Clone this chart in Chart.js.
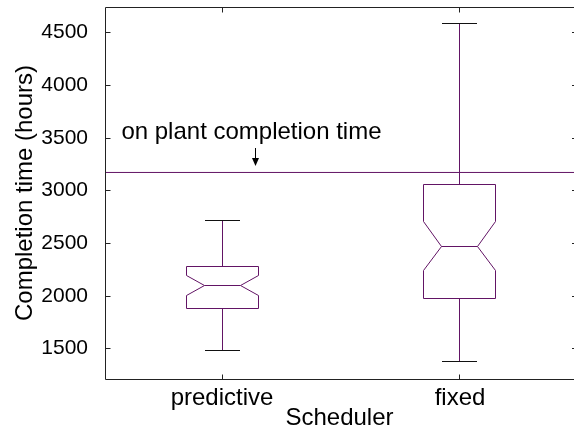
<!DOCTYPE html>
<html>
<head>
<meta charset="utf-8">
<script src="https://cdn.jsdelivr.net/npm/chart.js@4.4.1/dist/chart.umd.min.js"></script>
<style>
html,body{margin:0;padding:0;background:#ffffff;}
#wrap{width:574px;height:432px;position:relative;}
</style>
</head>
<body>
<div id="wrap"><canvas id="c" width="574" height="432"></canvas></div>
<script>
// ---- data ----
const categories  = ['predictive', 'fixed'];
const whiskerLow  = [1478, 1377];
const quartile1   = [1882, 1980];
const medians     = [2098, 2469];
const quartile3   = [2282, 3061];
const whiskerHigh = [2716, 4585];
const notchLow    = [2004, 2238];
const notchHigh   = [2190, 2707];
const referenceValue = [3173];
const referenceLabel = 'on plant completion time';
const yTickValues = [1500, 2000, 2500, 3000, 3500, 4000, 4500];
const xTitle = 'Scheduler';
const yTitle = 'Completion time (hours)';

// ---- layout / style constants ----
const X_MIN = -0.4916, X_MAX = 1.479;
const Y_MIN = 1212, Y_MAX = 4744;
const FONT = "'Liberation Sans', Arial, Helvetica, sans-serif";
const FS = 24;
const TICK_FS = 21;
const BOX_COLOR = '#621465';
const AXIS_COLOR = '#222222';
const BOX_HALF = 36, NOTCH_INSET = 18, CAP_HALF = 17.5, TICK_LEN = 5;
const LABEL_AT = {x: -0.4227, y: 3492};
const ARROW_X = 0.14, ARROW_FROM = 3405, ARROW_TO = 3234;

const crisp = v => Math.round(v - 0.5) + 0.5;

const drawPlugin = {
  id: 'gnuplotLook',
  afterDatasetsDraw(chart) {
    const ctx = chart.ctx;
    const xs = chart.scales.x, ys = chart.scales.y;
    const a = chart.chartArea;
    ctx.save();
    ctx.strokeStyle = AXIS_COLOR;
    ctx.lineWidth = 1;
    const L = crisp(a.left), T = crisp(a.top), B = crisp(a.bottom), R = a.right + 3;
    ctx.beginPath();
    ctx.moveTo(R, T); ctx.lineTo(L, T); ctx.lineTo(L, B); ctx.lineTo(R, B);
    ctx.stroke();
    ctx.beginPath();
    yTickValues.forEach(v => {
      const py = crisp(ys.getPixelForValue(v));
      ctx.moveTo(L, py); ctx.lineTo(L + TICK_LEN, py);
      ctx.moveTo(R, py); ctx.lineTo(R - TICK_LEN, py);
    });
    categories.forEach((c, i) => {
      const px = crisp(xs.getPixelForValue(i));
      ctx.moveTo(px, B); ctx.lineTo(px, B - TICK_LEN);
      ctx.moveTo(px, T); ctx.lineTo(px, T + TICK_LEN);
    });
    ctx.stroke();

    categories.forEach((c, i) => {
      const cx = crisp(xs.getPixelForValue(i));
      const Y = v => crisp(ys.getPixelForValue(v));
      const l = cx - BOX_HALF, r = cx + BOX_HALF;
      ctx.strokeStyle = BOX_COLOR;
      ctx.beginPath();
      ctx.moveTo(cx, Y(whiskerHigh[i])); ctx.lineTo(cx, Y(quartile3[i]));
      ctx.moveTo(cx, Y(quartile1[i])); ctx.lineTo(cx, Y(whiskerLow[i]));
      ctx.stroke();
      ctx.beginPath();
      ctx.moveTo(l, Y(quartile3[i]));
      ctx.lineTo(r, Y(quartile3[i]));
      ctx.lineTo(r, Y(notchHigh[i]));
      ctx.lineTo(r - NOTCH_INSET, Y(medians[i]));
      ctx.lineTo(r, Y(notchLow[i]));
      ctx.lineTo(r, Y(quartile1[i]));
      ctx.lineTo(l, Y(quartile1[i]));
      ctx.lineTo(l, Y(notchLow[i]));
      ctx.lineTo(l + NOTCH_INSET, Y(medians[i]));
      ctx.lineTo(l, Y(notchHigh[i]));
      ctx.closePath();
      ctx.moveTo(l + NOTCH_INSET, Y(medians[i]));
      ctx.lineTo(r - NOTCH_INSET, Y(medians[i]));
      ctx.stroke();
      ctx.strokeStyle = '#111111';
      ctx.beginPath();
      ctx.moveTo(cx - CAP_HALF, Y(whiskerHigh[i])); ctx.lineTo(cx + CAP_HALF, Y(whiskerHigh[i]));
      ctx.moveTo(cx - CAP_HALF, Y(whiskerLow[i])); ctx.lineTo(cx + CAP_HALF, Y(whiskerLow[i]));
      ctx.stroke();
    });

    ctx.fillStyle = '#000000';
    ctx.font = FS + 'px ' + FONT;
    ctx.textAlign = 'left';
    ctx.textBaseline = 'alphabetic';
    ctx.fillText(referenceLabel, xs.getPixelForValue(LABEL_AT.x), ys.getPixelForValue(LABEL_AT.y));
    const ax = crisp(xs.getPixelForValue(ARROW_X));
    const y0 = ys.getPixelForValue(ARROW_FROM), y1 = ys.getPixelForValue(ARROW_TO);
    ctx.strokeStyle = '#000000';
    ctx.beginPath();
    ctx.moveTo(ax, y0); ctx.lineTo(ax, y1 - 6);
    ctx.stroke();
    ctx.beginPath();
    ctx.moveTo(ax - 3.5, y1 - 8);
    ctx.lineTo(ax + 3.5, y1 - 8);
    ctx.lineTo(ax, y1);
    ctx.closePath();
    ctx.fill();
    ctx.restore();
  }
};

const chart = new Chart(document.getElementById('c'), {
  type: 'scatter',
  data: {
    datasets: [
      {
        type: 'line',
        label: referenceLabel,
        data: [{x: X_MIN, y: referenceValue[0]}, {x: X_MAX, y: referenceValue[0]}],
        borderColor: BOX_COLOR,
        borderWidth: 1,
        pointRadius: 0,
        fill: false
      },
      {
        label: 'median',
        data: medians.map((m, i) => ({x: i, y: m})),
        pointRadius: 0,
        borderColor: BOX_COLOR,
        backgroundColor: BOX_COLOR
      }
    ]
  },
  options: {
    responsive: false,
    animation: false,
    events: [],
    layout: {padding: {top: 7, right: 0, bottom: 0, left: 0}},
    plugins: {legend: {display: false}, tooltip: {enabled: false}},
    scales: {
      x: {
        type: 'linear',
        min: X_MIN,
        max: X_MAX,
        afterBuildTicks: s => { s.ticks = categories.map((c, i) => ({value: i})); },
        afterFit: s => { s.height = 53; s.paddingLeft = 0; s.paddingRight = 0; },
        grid: {display: false},
        border: {display: false},
        ticks: {
          autoSkip: false,
          maxRotation: 0,
          padding: -3,
          color: '#000000',
          font: {family: FONT, size: FS, lineHeight: 1.2},
          callback: v => categories[v] !== undefined ? categories[v] : ''
        },
        title: {
          display: true,
          text: xTitle,
          color: '#000000',
          font: {family: FONT, size: FS, lineHeight: 1.0},
          padding: {top: 0, bottom: 2}
        }
      },
      y: {
        type: 'linear',
        min: Y_MIN,
        max: Y_MAX,
        afterBuildTicks: s => { s.ticks = yTickValues.map(v => ({value: v})); },
        afterFit: s => { s.width = 105; s.paddingTop = 0; s.paddingBottom = 0; },
        grid: {display: false},
        border: {display: false},
        ticks: {
          padding: 9,
          color: '#000000',
          font: {family: FONT, size: TICK_FS},
          callback: v => String(v)
        },
        title: {
          display: true,
          text: yTitle,
          color: '#000000',
          font: {family: FONT, size: FS, lineHeight: 1.0},
          padding: {top: 13, bottom: 0}
        }
      }
    }
  },
  plugins: [drawPlugin]
});
</script>
</body>
</html>
